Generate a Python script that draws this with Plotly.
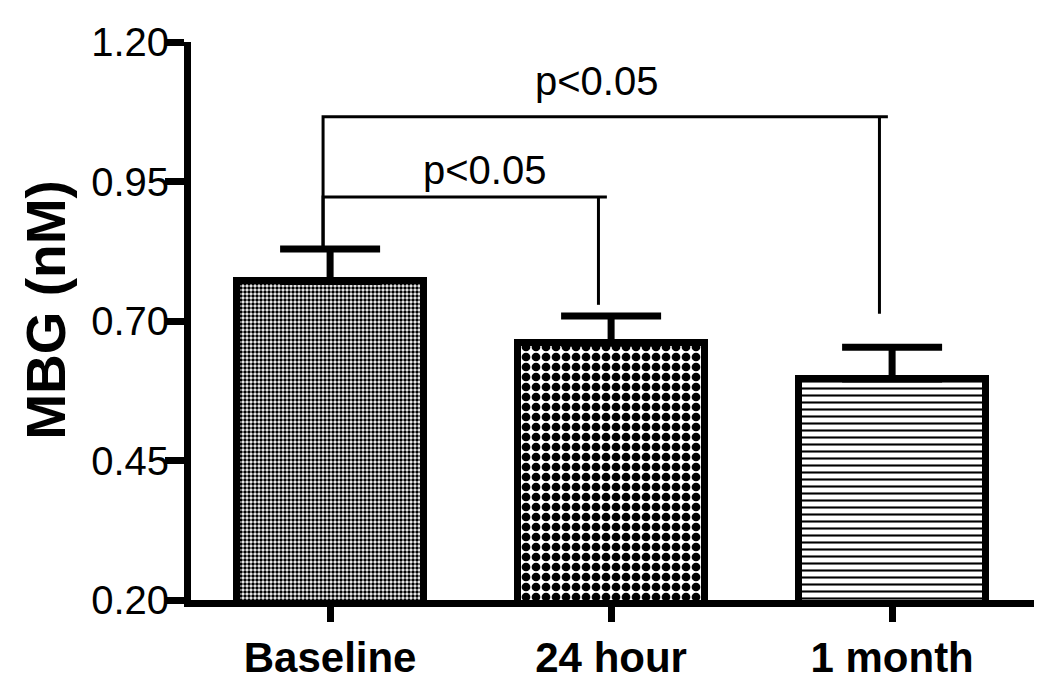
import plotly.graph_objects as go

# ---- data ----
categories = ["Baseline", "24 hour", "1 month"]
cat_pos = [0, 1, 2]
means = [0.771, 0.660, 0.596]
sem = [0.058, 0.049, 0.057]

y_ticks = [0.20, 0.45, 0.70, 0.95, 1.20]
y_tick_labels = ["0.20", "0.45", "0.70", "0.95", "1.20"]

# significance brackets
comp_from = [0, 0]
comp_to = [1, 2]
comp_y = [0.922, 1.066]
comp_right_end = [0.729, 0.713]
comp_text = ["p<0.05", "p<0.05"]
comp_text_x = [0.548, 0.947]
comp_text_y = [0.927, 1.088]

# ---- styles ----
pattern_shapes = [".", ".", "-"]
pattern_sizes = [4, 10, 7]
pattern_solid = [0.6, 0.6, 0.3]

FONT = "Liberation Sans, Arial"

fig = go.Figure()

for i in range(len(categories)):
    fig.add_trace(go.Bar(
        x=[cat_pos[i]], y=[means[i]],
        width=0.665,
        marker=dict(
            color="white",
            line=dict(color="black", width=7),
            pattern=dict(shape=pattern_shapes[i], size=pattern_sizes[i],
                         solidity=pattern_solid[i], fgcolor="black",
                         bgcolor="white", fillmode="replace"),
        ),
        error_y=dict(type="data", symmetric=False, array=[sem[i]],
                     arrayminus=[0], color="black", thickness=7, width=50),
        showlegend=False, hoverinfo="skip",
    ))

tops = [m + s for m, s in zip(means, sem)]
for k in range(len(comp_from)):
    a, b = comp_from[k], comp_to[k]
    xl = a - 0.025
    xr = b - 0.045
    fig.add_trace(go.Scatter(
        x=[xl, xl, b - 0.015, None, xr, xr],
        y=[tops[a], comp_y[k], comp_y[k], None, comp_y[k], comp_right_end[k]],
        mode="lines", line=dict(color="black", width=3),
        showlegend=False, hoverinfo="skip", cliponaxis=False,
    ))
    fig.add_annotation(x=comp_text_x[k], y=comp_text_y[k], text=comp_text[k],
                       showarrow=False, yanchor="bottom", xanchor="center",
                       font=dict(family=FONT, size=40, color="black"))

# y-axis title as rotated annotation
fig.add_annotation(xref="paper", yref="paper", x=-0.172, y=0.52,
                   text="<b>MBG (nM)</b>", textangle=-90, showarrow=False,
                   xanchor="center", yanchor="middle",
                   font=dict(family=FONT, size=55, color="black"))

fig.update_layout(
    width=1042, height=688,
    margin=dict(l=183, r=16, t=34, b=96),
    plot_bgcolor="white", paper_bgcolor="white",
    bargap=0,
    font=dict(family=FONT, color="black"),
)
fig.update_xaxes(
    range=[-0.495, 2.505],
    tickvals=cat_pos, ticktext=["<b>%s</b>" % c for c in categories],
    tickfont=dict(size=42, family=FONT),
    showline=True, linecolor="black", linewidth=7,
    ticks="outside", ticklen=15, tickwidth=7, tickcolor="black",
    showgrid=False, zeroline=False,
)
fig.update_yaxes(
    range=[0.20, 1.20],
    tickvals=y_ticks, ticktext=y_tick_labels,
    tickfont=dict(size=40, family=FONT),
    ticklabelstandoff=-12,
    showline=True, linecolor="black", linewidth=7,
    ticks="outside", ticklen=19, tickwidth=7, tickcolor="black",
    showgrid=False, zeroline=False,
)

fig.write_html("out.html")
